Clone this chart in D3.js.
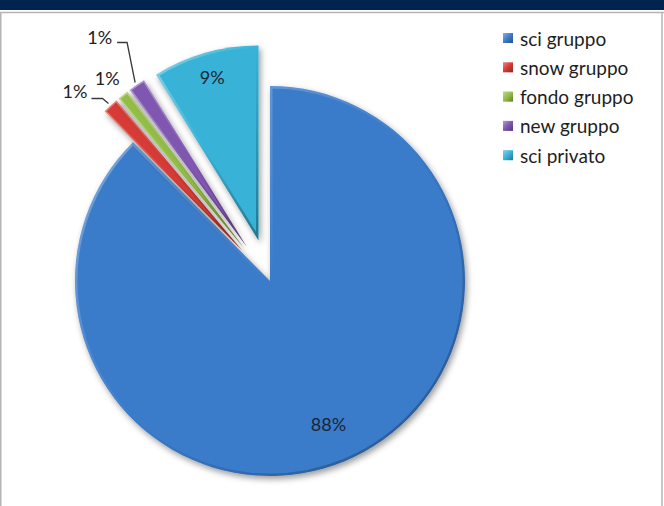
<!DOCTYPE html>
<html>
<head>
<meta charset="utf-8">
<script src="https://cdn.jsdelivr.net/npm/d3@7"></script>
<style>
  html, body { margin: 0; padding: 0; background: #fff; }
  svg { display: block; }
  text { font-family: Lato, "Open Sans", "DejaVu Sans", sans-serif; }
</style>
</head>
<body>
<svg id="chart" width="664" height="506"></svg>
<script>
// Share of bookings by category (percent)
const categories = ["sci gruppo", "snow gruppo", "fondo gruppo", "new gruppo", "sci privato"];
const shares = [87.6, 1.3, 0.9, 1.4, 8.8];
const colors = ["#3b7bca", "#d63b35", "#93bd45", "#7f57b0", "#39b3d7"];
// Slices pulled out of the pie (all except the first)
const exploded = [false, true, true, true, true];

const W = 664, H = 506;
const cx = 270, cy = 281, R = 195, pull = 42;

const svg = d3.select("#chart");
const defs = svg.append("defs");

// soft shadow under the slices
const sh = defs.append("filter").attr("id", "shadow")
  .attr("x", "-20%").attr("y", "-20%").attr("width", "140%").attr("height", "140%");
sh.append("feDropShadow").attr("dx", 2).attr("dy", 3)
  .attr("stdDeviation", 3).attr("flood-color", "#000").attr("flood-opacity", 0.4);

// bevel: light rim top-left, dark rim bottom-right
const bevel = defs.append("linearGradient").attr("id", "bevel")
  .attr("x1", 0).attr("y1", 0).attr("x2", 1).attr("y2", 1);
bevel.append("stop").attr("offset", "0%").attr("stop-color", "#fff").attr("stop-opacity", 0.4);
bevel.append("stop").attr("offset", "50%").attr("stop-color", "#fff").attr("stop-opacity", 0.0);
bevel.append("stop").attr("offset", "50%").attr("stop-color", "#000").attr("stop-opacity", 0.0);
bevel.append("stop").attr("offset", "100%").attr("stop-color", "#000").attr("stop-opacity", 0.35);

// header band and frame
svg.append("rect").attr("x", 0).attr("y", 0).attr("width", W).attr("height", 10).attr("fill", "#00244f");
svg.append("line").attr("x1", 0).attr("x2", W).attr("y1", 12.5).attr("y2", 12.5)
  .attr("stroke", "#b4b4b4").attr("stroke-width", 1.5);
svg.append("line").attr("x1", 0.75).attr("x2", 0.75).attr("y1", 12).attr("y2", H)
  .attr("stroke", "#b4b4b4").attr("stroke-width", 1.5);
svg.append("line").attr("x1", 662).attr("x2", 662).attr("y1", 12).attr("y2", H)
  .attr("stroke", "#b4b4b4").attr("stroke-width", 1.5);

const data = categories.map((c, i) => ({ cat: c, value: shares[i], color: colors[i], out: exploded[i] }));
const pie = d3.pie().value(d => d.value).sort(null).startAngle(0).endAngle(2 * Math.PI);
const arcs = pie(data);
const arc = d3.arc().innerRadius(0).outerRadius(R);

function offset(a) {
  if (!a.data.out) return [0, 0];
  const m = (a.startAngle + a.endAngle) / 2;
  return [pull * Math.sin(m), -pull * Math.cos(m)];
}

const g = svg.append("g").attr("transform", `translate(${cx},${cy})`);

const slices = g.selectAll("g.slice").data(arcs).join("g")
  .attr("class", "slice")
  .attr("transform", d => { const o = offset(d); return `translate(${o[0]},${o[1]})`; });

slices.each(function (d, i) {
  const s = d3.select(this);
  const clipId = "clip" + i;
  defs.append("clipPath").attr("id", clipId).append("path").attr("d", arc(d));
  s.append("path").attr("d", arc(d)).attr("fill", d.data.color).attr("filter", "url(#shadow)");
  s.append("path").attr("d", arc(d)).attr("fill", "none")
    .attr("stroke", "url(#bevel)").attr("stroke-width", d.data.value < 5 ? 3 : 5)
    .attr("stroke-linejoin", "round")
    .attr("clip-path", `url(#${clipId})`);
});

const fmt = v => Math.round(v) + "%";
const labelColor = "#1c2433";

// inside labels for the large slices
arcs.forEach(a => {
  if (a.data.value < 5) return;
  const m = (a.startAngle + a.endAngle) / 2;
  const o = offset(a);
  const rr = a.data.out ? 0.87 * R : 0.79 * R;
  g.append("text")
    .attr("x", o[0] + rr * Math.sin(m))
    .attr("y", o[1] - rr * Math.cos(m))
    .attr("text-anchor", "middle").attr("dominant-baseline", "central")
    .attr("font-size", 18).attr("fill", labelColor)
    .text(fmt(a.data.value));
});

// outside labels for the thin slices; leader runs tip -> elbow -> label
const small = arcs.filter(a => a.data.value < 5);
const place = {
  "snow gruppo":  { elbow: [-6, -5],  end: -17, text: [-21, -6], leader: true },
  "fondo gruppo": { text: [-14, -15], leader: false },
  "new gruppo":   { elbow: [-8, -40], end: -18, text: [-23, -39], leader: true }
};
small.forEach(a => {
  const m = (a.startAngle + a.endAngle) / 2;
  const o = offset(a);
  const tx = o[0] + (R + 3) * Math.sin(m), ty = o[1] - (R + 3) * Math.cos(m);
  const p = place[a.data.cat];
  if (p.leader) {
    const ey = ty + p.elbow[1];
    g.append("path")
      .attr("d", d3.line()([[tx, ty], [tx + p.elbow[0], ey], [tx + p.end, ey]]))
      .attr("fill", "none").attr("stroke", "#3a3a3a").attr("stroke-width", 1.3);
    g.append("text").attr("x", tx + p.text[0]).attr("y", ty + p.text[1])
      .attr("text-anchor", "end").attr("font-size", 18).attr("fill", "#222")
      .text(fmt(a.data.value));
  } else {
    g.append("text").attr("x", tx + p.text[0]).attr("y", ty + p.text[1])
      .attr("text-anchor", "middle").attr("dominant-baseline", "central")
      .attr("font-size", 18).attr("fill", "#222")
      .text(fmt(a.data.value));
  }
});

// legend
const legend = svg.append("g").attr("transform", "translate(503,38)");
const items = legend.selectAll("g").data(data).join("g")
  .attr("transform", (d, i) => `translate(0,${i * 29.3})`);
items.append("rect").attr("x", 0).attr("y", -5).attr("width", 10).attr("height", 10)
  .attr("fill", d => d.color);
items.append("rect").attr("x", 0).attr("y", -5).attr("width", 10).attr("height", 10)
  .attr("fill", "url(#bevel)");
items.append("text").attr("x", 17).attr("y", 0).attr("dominant-baseline", "central")
  .attr("font-size", 19).attr("fill", "#1e1e1e")
  .text(d => d.cat);
</script>
</body>
</html>
